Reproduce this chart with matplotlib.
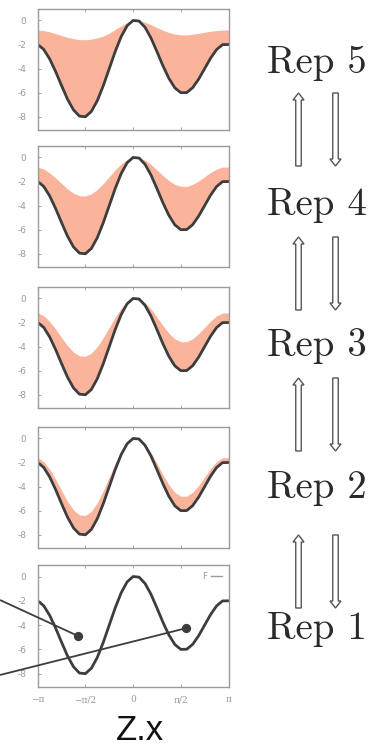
import numpy as np
import matplotlib
matplotlib.use("Agg")
import matplotlib.pyplot as plt
from matplotlib.patches import FancyArrow

# ── data ────────────────────────────────────────────────────────
# x grid: -pi .. pi in steps of pi/16
x_steps = list(range(-16, 17))
curve = [-2.00, -2.40, -3.19, -4.24, -5.41, -6.54, -7.43, -7.95, -8.00,
         -7.56, -6.66, -5.42, -4.00, -2.58, -1.34, -0.44, 0.00, -0.05,
         -0.57, -1.46, -2.59, -3.76, -4.81, -5.60, -6.00, -5.99, -5.58,
         -4.87, -4.00, -3.13, -2.42, -2.01, -2.00]

# upper edge of the shaded band for each rep (Rep 1 has none)
band_rep2 = [-1.60, -1.92, -2.55, -3.39, -4.33, -5.23, -5.94, -6.36, -6.40,
             -6.05, -5.33, -4.34, -3.20, -2.06, -1.07, -0.35, 0.00, -0.04,
             -0.46, -1.17, -2.07, -3.01, -3.85, -4.48, -4.80, -4.79, -4.46,
             -3.90, -3.20, -2.50, -1.94, -1.61, -1.60]
band_rep3 = [-1.20, -1.44, -1.91, -2.54, -3.25, -3.92, -4.46, -4.77, -4.80,
             -4.54, -4.00, -3.25, -2.40, -1.55, -0.80, -0.26, 0.00, -0.03,
             -0.34, -0.88, -1.55, -2.26, -2.89, -3.36, -3.60, -3.59, -3.35,
             -2.92, -2.40, -1.88, -1.45, -1.21, -1.20]
band_rep4 = [-0.80, -0.96, -1.28, -1.70, -2.16, -2.62, -2.97, -3.18, -3.20,
             -3.02, -2.66, -2.17, -1.60, -1.03, -0.54, -0.18, 0.00, -0.02,
             -0.23, -0.58, -1.04, -1.50, -1.92, -2.24, -2.40, -2.40, -2.23,
             -1.95, -1.60, -1.25, -0.97, -0.80, -0.80]
band_rep5 = [-0.80, -0.85, -0.95, -1.10, -1.25, -1.40, -1.52, -1.59, -1.60,
             -1.55, -1.45, -1.30, -1.05, -0.75, -0.45, -0.18, 0.00, -0.02,
             -0.15, -0.35, -0.60, -0.82, -1.00, -1.13, -1.20, -1.20, -1.15,
             -1.07, -0.98, -0.90, -0.84, -0.80, -0.80]

rep_labels = ["Rep 5", "Rep 4", "Rep 3", "Rep 2", "Rep 1"]
bands = [band_rep5, band_rep4, band_rep3, band_rep2, None]

y_ticks = [0, -2, -4, -6, -8]
y_ticklabels = ["0", "-2", "-4", "-6", "-8"]
x_ticklabels = ["−π", "−π/2", "0", "π/2", "π"]

# annotation dots in the Rep 1 panel (data coords)
dot_x = [-1.81, 1.75]
dot_y = [-4.9, -4.25]

x = np.array(x_steps) * np.pi / 16

# ── layout (pixels) ─────────────────────────────────────────────
W, H = 375, 746
fig = plt.figure(figsize=(W / 100, H / 100), dpi=100)
fig.patch.set_facecolor("white")

panel_px = [(9, 130), (146, 267), (287, 408), (427, 548), (565, 687)]
left_px, right_px = 37.7, 228.5

LINE = "#3d3d3d"
BAND = "#f9b49b"
GRAY = "#999999"

axes = []
for i, (top, bot) in enumerate(panel_px):
    ax = fig.add_axes([left_px / W, 1 - bot / H,
                       (right_px - left_px) / W, (bot - top) / H])
    if bands[i] is not None:
        ax.fill_between(x, curve, bands[i], color=BAND, lw=0)
    ax.plot(x, curve, color=LINE, lw=2.0, solid_capstyle="round")
    ax.set_xlim(-np.pi, np.pi)
    ax.set_ylim(-9.1, 0.95)
    ax.set_yticks(y_ticks)
    ax.set_yticklabels(y_ticklabels)
    ax.set_xticks([-np.pi, -np.pi / 2, 0, np.pi / 2, np.pi])
    if i == 4:
        ax.set_xticklabels(x_ticklabels, family="DejaVu Serif")
    else:
        ax.set_xticklabels([])
    ax.tick_params(direction="in", length=2, width=0.6, colors=GRAY,
                   labelsize=6.5, top=True, right=False)
    ax.tick_params(axis="y", pad=8)
    ax.tick_params(axis="x", pad=6)
    for s in ax.spines.values():
        s.set_color("#9a9a9a")
        s.set_linewidth(1.0)
    axes.append(ax)

# legend "F —" in the last panel (label before line)
h, = axes[4].plot([], [], color=GRAY, lw=1.0)
axes[4].legend([h], ["F"], loc="upper right", markerfirst=False,
               frameon=False, fontsize=6, handlelength=1.3,
               labelcolor=GRAY, borderaxespad=0.4, handletextpad=0.5)

axes[4].scatter(dot_x, dot_y, s=32, color=LINE, zorder=5)
ax5 = axes[4]

# ── overlay in pixel coordinates for text, arrows and leader lines ──
ov = fig.add_axes([0, 0, 1, 1], zorder=10)
ov.set_xlim(0, W)
ov.set_ylim(H, 0)
ov.axis("off")
ov.patch.set_alpha(0)

# leader lines from the left edge to the dots
for (dx_, dy_), y0 in zip(zip(dot_x, dot_y), [600, 675]):
    px, py = ov.transData.inverted().transform(
        ax5.transData.transform((dx_, dy_)))
    ov.plot([0, px], [y0, py], color=LINE, lw=1.3, solid_capstyle="butt")

label_y = [63, 205, 346, 488, 629]
for lab, ly in zip(rep_labels, label_y):
    ov.text(267, ly, lab, family="cmr10", fontsize=28, color="#2a2a2a",
            va="center", ha="left")

arrow_tops = [93, 237, 378, 535]
for t in arrow_tops:
    ov.add_patch(FancyArrow(298.5, t + 73, 0, -73, width=5.5, head_width=11,
                            head_length=7, length_includes_head=True,
                            fc="white", ec="#555555", lw=1.0))
    ov.add_patch(FancyArrow(335.5, t, 0, 73, width=5.5, head_width=11,
                            head_length=7, length_includes_head=True,
                            fc="white", ec="#555555", lw=1.0))

ov.text(140, 731, "Z.x", family="Liberation Sans", fontsize=25,
        color="#111111", ha="center", va="center")

fig.savefig("out.png", dpi=100, facecolor="white")
